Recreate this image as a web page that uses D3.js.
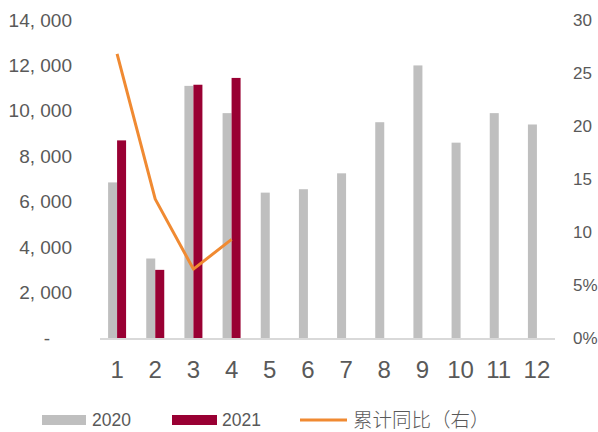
<!DOCTYPE html>
<html>
<head>
<meta charset="utf-8">
<script src="https://cdn.jsdelivr.net/npm/d3@7"></script>
<style>
  body { margin: 0; background: #fff; }
  svg text { fill: #595959; }
</style>
</head>
<body>
<svg id="chart" width="598" height="432"></svg>
<script>
//chart data
const months = ["1", "2", "3", "4", "5", "6", "7", "8", "9", "10", "11", "12"];
const values2020 = [6850, 3500, 11100, 9900, 6400, 6550, 7250, 9500, 12000, 8600, 9900, 9400];
const values2021 = [8700, 3000, 11150, 11450];
const yoyCum = [26.8, 13.1, 6.5, 9.3];
const leftTicks = [0, 2000, 4000, 6000, 8000, 10000, 12000, 14000];
const rightTicks = [0, 5, 10, 15, 20, 25, 30];

//plot area
const plot = { left: 98, right: 556, top: 20, bottom: 338 };

const svg = d3.select("#chart");

const x = d3.scaleBand()
    .domain(months)
    .range([plot.left, plot.right]);
const yLeft = d3.scaleLinear()
    .domain([0, 14000])
    .range([plot.bottom, plot.top]);
const yRight = d3.scaleLinear()
    .domain([0, 30])
    .range([plot.bottom, plot.top]);

const barW = 9;

//2020 bars sit left of the category centre, 2021 bars right of it
svg.append("g")
    .selectAll("rect")
    .data(values2020)
    .join("rect")
    .attr("x", (d, i) => x(months[i]) + x.bandwidth() / 2 - barW)
    .attr("y", d => yLeft(d))
    .attr("width", barW)
    .attr("height", d => yLeft(0) - yLeft(d))
    .attr("fill", "#bfbfbf");

svg.append("g")
    .selectAll("rect")
    .data(values2021)
    .join("rect")
    .attr("x", (d, i) => x(months[i]) + x.bandwidth() / 2)
    .attr("y", d => yLeft(d))
    .attr("width", barW)
    .attr("height", d => yLeft(0) - yLeft(d))
    .attr("fill", "#990033");

//baseline
svg.append("line")
    .attr("x1", plot.left + 2)
    .attr("x2", plot.right - 1)
    .attr("y1", yLeft(0) + 1)
    .attr("y2", yLeft(0) + 1)
    .attr("stroke", "#d9d9d9")
    .attr("stroke-width", 2);

//cumulative yoy line on the right axis
const line = d3.line()
    .x((d, i) => x(months[i]) + x.bandwidth() / 2)
    .y(d => yRight(d));
svg.append("path")
    .datum(yoyCum)
    .attr("d", line)
    .attr("fill", "none")
    .attr("stroke", "#f08a32")
    .attr("stroke-width", 3)
    .attr("stroke-linejoin", "round");

//left axis
const leftAxis = svg.append("g")
    .attr("transform", `translate(${plot.left - 26},0)`)
    .call(d3.axisLeft(yLeft).tickValues(leftTicks).tickSize(0).tickPadding(0)
        .tickFormat(d => d === 0 ? "-" : d3.format(",")(d).replace(",", ", ")));
leftAxis.select(".domain").remove();
leftAxis.selectAll("text")
    .attr("font-family", "Liberation Sans, Arial, sans-serif")
    .attr("font-size", 19)
    .attr("dx", d => d === 0 ? -22 : 0);

//right axis - only the small values keep their % sign, as in the source picture
const rightAxis = svg.append("g")
    .attr("transform", `translate(${plot.right + 17},0)`)
    .call(d3.axisRight(yRight).tickValues(rightTicks).tickSize(0).tickPadding(0)
        .tickFormat(d => d <= 5 ? d + "%" : d));
rightAxis.select(".domain").remove();
rightAxis.selectAll("text")
    .attr("font-family", "Liberation Sans, Arial, sans-serif")
    .attr("font-size", 17);

//bottom axis
const bottomAxis = svg.append("g")
    .attr("transform", `translate(0,${plot.bottom + 40})`)
    .call(d3.axisBottom(x).tickSize(0).tickPadding(0));
bottomAxis.select(".domain").remove();
bottomAxis.selectAll("text")
    .attr("font-family", "Liberation Sans, Arial, sans-serif")
    .attr("font-size", 24)
    .attr("dy", 0);

//legend
const legend = svg.append("g").attr("transform", "translate(0,420)");
legend.append("rect").attr("x", 42).attr("y", -5).attr("width", 44).attr("height", 10).attr("fill", "#bfbfbf");
legend.append("text").attr("x", 92).attr("y", 5.5).text("2020")
    .attr("font-family", "Liberation Sans, Arial, sans-serif").attr("font-size", 17.5);
legend.append("rect").attr("x", 172).attr("y", -5).attr("width", 45).attr("height", 10).attr("fill", "#990033");
legend.append("text").attr("x", 222).attr("y", 5.5).text("2021")
    .attr("font-family", "Liberation Sans, Arial, sans-serif").attr("font-size", 17.5);
legend.append("line").attr("x1", 300).attr("x2", 347).attr("y1", 0).attr("y2", 0)
    .attr("stroke", "#f08a32").attr("stroke-width", 3);
legend.append("text").attr("x", 353).attr("y", 7).text("累计同比（右）")
    .attr("font-family", "Noto Sans CJK SC, sans-serif").attr("font-size", 19.5).attr("font-weight", 300);
</script>
</body>
</html>
